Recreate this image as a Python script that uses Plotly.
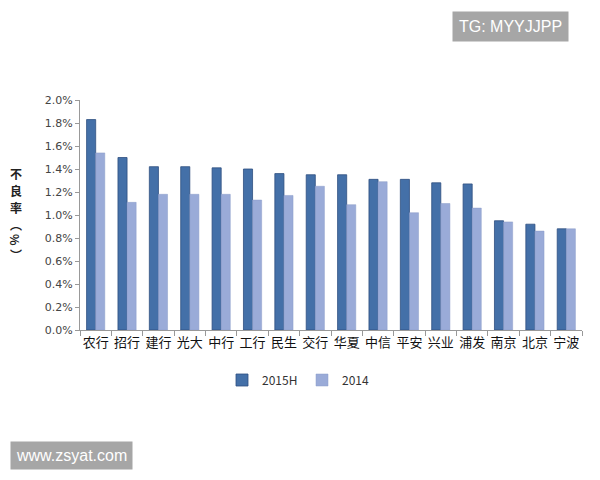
import plotly.graph_objects as go

banks = ["农行", "招行", "建行", "光大", "中行", "工行", "民生", "交行", "华夏", "中信", "平安", "兴业", "浦发", "南京", "北京", "宁波"]
v2015h = [1.83, 1.50, 1.42, 1.42, 1.41, 1.40, 1.36, 1.35, 1.35, 1.31, 1.31, 1.28, 1.27, 0.95, 0.92, 0.88]
v2014 = [1.54, 1.11, 1.18, 1.18, 1.18, 1.13, 1.17, 1.25, 1.09, 1.29, 1.02, 1.10, 1.06, 0.94, 0.86, 0.88]
yticks = [0.0, 0.2, 0.4, 0.6, 0.8, 1.0, 1.2, 1.4, 1.6, 1.8, 2.0]
ytick_labels = ["%.1f%%" % t for t in yticks]
ytitle_chars = ["不", "良", "率", "︵", "%", "︶"]
ytitle_pos = [173, 190, 207, 224, 240, 254]

font_cjk = "Noto Sans CJK SC, Noto Sans, sans-serif"

OFF = 8  # page body margin
# plot area in screen pixels: x 80..582, y 100..330
L, R, T, B = 80, 582, 100, 330
def py(pix):
    return (B - pix) / (B - T)
def px(pix):
    return (pix - L) / (R - L)

fig = go.Figure()
fig.add_trace(go.Bar(x=banks, y=v2015h, name="2015H",
                     marker=dict(color="#4470a8", line=dict(color="#2e4f80", width=0.8))))
fig.add_trace(go.Bar(x=banks, y=v2014, name="2014",
                     marker=dict(color="#9aabd8", line=dict(color="#8a9dc8", width=0.5))))

fig.update_layout(
    width=600, height=480,
    margin=dict(l=L - OFF, r=600 - (R - OFF), t=T - OFF, b=480 - (B - OFF), autoexpand=False),
    paper_bgcolor="white", plot_bgcolor="white",
    barmode="group", bargap=0.42, bargroupgap=0,
    font=dict(family=font_cjk, color="#333333"),
    showlegend=True,
    legend=dict(orientation="h", x=px(222), xanchor="left", y=py(380), yanchor="middle",
                font=dict(size=12, color="#333333"), entrywidth=35, entrywidthmode="pixels",
                itemwidth=30, traceorder="normal"),
    xaxis=dict(showline=True, linecolor="#999999", linewidth=1, automargin=False,
               ticks="outside", tickson="boundaries", ticklen=5, tickcolor="#999999",
               tickangle=0,
               tickfont=dict(size=13, color="#111111", family=font_cjk),
               showgrid=False),
    yaxis=dict(range=[0, 2.0], tickvals=yticks, ticktext=ytick_labels, automargin=False,
               showline=True, linecolor="#999999", linewidth=1,
               ticks="outside", ticklen=4, tickcolor="#999999",
               tickfont=dict(size=11, color="#444444", family="DejaVu Sans, sans-serif"),
               showgrid=False, zeroline=False),
)

for ch, yp in zip(ytitle_chars, ytitle_pos):
    fig.add_annotation(text="<b>%s</b>" % ch, xref="paper", yref="paper",
                       x=px(16), y=py(yp), xanchor="center", yanchor="middle",
                       showarrow=False, textangle=90 if ch == "%" else 0,
                       font=dict(size=12, color="#222222", family=font_cjk))

fig.add_annotation(text="TG: MYYJJPP", xref="paper", yref="paper",
                   x=px(452), y=py(26), xanchor="left", yanchor="middle",
                   showarrow=False, bgcolor="#a6a6a6", borderpad=6,
                   font=dict(size=16, color="white", family="Liberation Sans, sans-serif"))
fig.add_annotation(text="www.zsyat.com", xref="paper", yref="paper",
                   x=px(10), y=py(455), xanchor="left", yanchor="middle",
                   showarrow=False, bgcolor="#a6a6a6", borderpad=5,
                   font=dict(size=16, color="white", family="Liberation Sans, sans-serif"))

fig.write_html("out.html")
